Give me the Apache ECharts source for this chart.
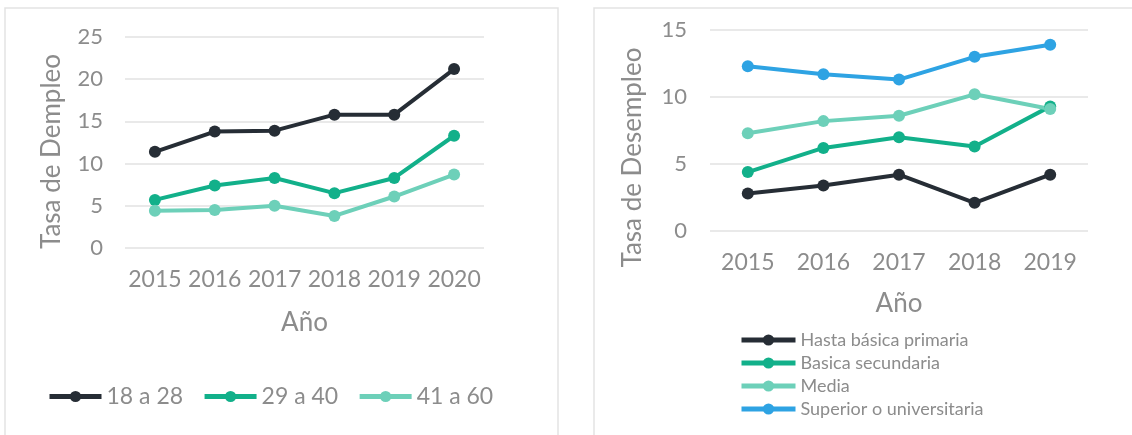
<!DOCTYPE html>
<html>
<head>
<meta charset="utf-8">
<script src="https://cdn.jsdelivr.net/npm/echarts@6/dist/echarts.min.js"></script>
<style>
  html, body { margin: 0; padding: 0; background: #fff; }
  #chart { width: 1132px; height: 435px; }
</style>
</head>
<body>
<div id="chart"></div>
<script>
// left chart: tasa por rango de edad
var years1 = ['2015', '2016', '2017', '2018', '2019', '2020'];
var edad18a28 = [11.4, 13.8, 13.9, 15.8, 15.8, 21.2];
var edad29a40 = [5.7, 7.4, 8.3, 6.5, 8.3, 13.3];
var edad41a60 = [4.4, 4.5, 5.0, 3.8, 6.1, 8.7];

// right chart: tasa por nivel educativo
var years2 = ['2015', '2016', '2017', '2018', '2019'];
var primaria = [2.8, 3.4, 4.2, 2.1, 4.2];
var secundaria = [4.4, 6.2, 7.0, 6.3, 9.3];
var media = [7.3, 8.2, 8.6, 10.2, 9.1];
var superior = [12.3, 11.7, 11.3, 13.0, 13.9];

var gris = '#8c8c8c';
var fuente = 'Lato';
var colores = ['#262d35', '#12b08a', '#6dd0b9', '#2ea3e3'];

function serie(nombre, datos, color, idx) {
    return {
        name: nombre,
        type: 'line',
        xAxisIndex: idx,
        yAxisIndex: idx,
        data: datos,
        symbol: 'circle',
        symbolSize: 12,
        lineStyle: { width: 4, color: color },
        itemStyle: { color: color },
        emphasis: { disabled: true },
        animation: false
    };
}

function ejeX(cats, gap, margin, idx) {
    return {
        type: 'category',
        gridIndex: idx,
        data: cats,
        name: 'Año',
        nameLocation: 'middle',
        nameGap: gap,
        nameTextStyle: { color: gris, fontSize: 26, fontFamily: fuente },
        axisLine: { show: false },
        axisTick: { show: false },
        axisLabel: { color: gris, fontSize: 23, fontFamily: fuente, margin: margin, interval: 0 }
    };
}

function ejeY(nombre, max, gap, margin, desplaza, idx) {
    return {
        type: 'value',
        gridIndex: idx,
        min: 0,
        max: max,
        interval: 5,
        name: nombre,
        nameLocation: 'middle',
        nameGap: gap,
        nameTextStyle: { color: gris, fontSize: 26, fontFamily: fuente, padding: [0, desplaza, 0, 0] },
        axisLine: { show: false },
        axisTick: { show: false },
        axisLabel: { color: gris, fontSize: 22, fontFamily: fuente, margin: margin },
        splitLine: { lineStyle: { color: '#e2e2e2', width: 1.5 } }
    };
}

var chart = echarts.init(document.getElementById('chart'));

var option = {
    backgroundColor: '#fff',
    graphic: [
        { type: 'rect', shape: { x: 5, y: 8, width: 553, height: 440 }, style: { fill: 'none', stroke: '#e3e3e3', lineWidth: 1.5 } },
        { type: 'rect', shape: { x: 594, y: 8, width: 545, height: 440 }, style: { fill: 'none', stroke: '#e3e3e3', lineWidth: 1.5 } }
    ],
    grid: [
        { left: 125, top: 37, width: 359, height: 211 },
        { left: 710, top: 30, width: 378, height: 201 }
    ],
    xAxis: [
        ejeX(years1, 62, 20, 0),
        ejeX(years2, 60, 20, 1)
    ],
    yAxis: [
        ejeY('Tasa de Dempleo', 25, 60, 22, 18, 0),
        ejeY('Tasa de Desempleo', 15, 64, 23, 54, 1)
    ],
    legend: [
        {
            data: ['18 a 28', '29 a 40', '41 a 60'],
            left: 47,
            top: 385,
            padding: 0,
            itemWidth: 52,
            itemHeight: 14,
            itemGap: 19,
            lineStyle: { width: 5 },
            textStyle: { color: gris, fontSize: 23, fontFamily: fuente }
        },
        {
            data: ['Hasta básica primaria', 'Basica secundaria', 'Media', 'Superior o universitaria'],
            orient: 'vertical',
            left: 739,
            top: 331,
            padding: 0,
            itemWidth: 54,
            itemHeight: 14,
            itemGap: 5,
            lineStyle: { width: 5 },
            textStyle: { color: gris, fontSize: 18, fontFamily: fuente, lineHeight: 18 }
        }
    ],
    series: [
        serie('18 a 28', edad18a28, colores[0], 0),
        serie('29 a 40', edad29a40, colores[1], 0),
        serie('41 a 60', edad41a60, colores[2], 0),
        serie('Hasta básica primaria', primaria, colores[0], 1),
        serie('Basica secundaria', secundaria, colores[1], 1),
        serie('Media', media, colores[2], 1),
        serie('Superior o universitaria', superior, colores[3], 1)
    ]
};

chart.setOption(option);
</script>
</body>
</html>
